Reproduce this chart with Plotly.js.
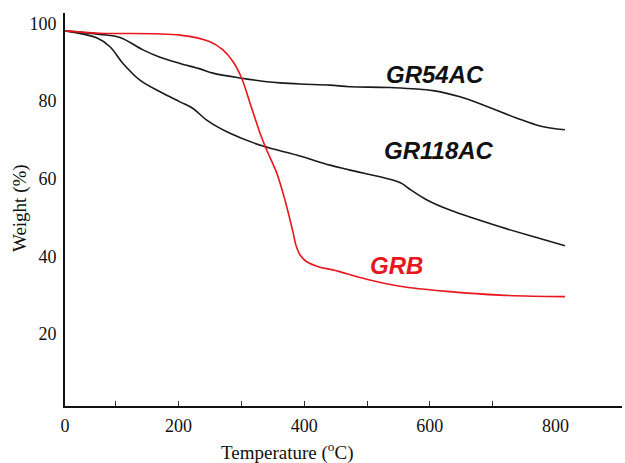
<!DOCTYPE html>
<html>
<head>
<meta charset="utf-8">
<script src="https://cdn.plot.ly/plotly-3.0.1.min.js"></script>
<style>
html,body{margin:0;padding:0;background:#fff;}
#chart{width:625px;height:463px;}
</style>
</head>
<body>
<div id="chart"></div>
<script>
// Temperature (°C) and weight (%)
const gr54acT = [19.3, 75, 106.8, 143.4, 170.5, 202.3, 234.1, 254.8, 300.5, 340.8, 361.5, 393.3, 441, 472.9, 536.5, 605, 648, 691, 738.6, 775.2, 815];
const gr54acW = [98.1, 97.2, 96.4, 93.2, 91.3, 89.7, 88.3, 87.2, 85.9, 85.0, 84.7, 84.4, 84.1, 83.7, 83.5, 82.7, 81.1, 78.6, 75.6, 73.6, 72.6];

const gr118acT = [19.3, 69.7, 90.9, 111.6, 138.6, 170.5, 202.3, 223, 244.8, 281.9, 334.4, 388, 441, 472.9, 552.4, 569.6, 595.4, 632, 711.6, 775.2, 815];
const gr118acW = [98.1, 96.3, 94.0, 89.7, 85.4, 82.4, 79.8, 78.1, 75.1, 71.7, 68.4, 66.1, 63.5, 62.2, 59.0, 57.1, 54.5, 51.9, 47.6, 44.6, 42.7];

const grbT = [19.3, 75, 202.3, 250, 270.7, 286.6, 300.5, 313.7, 329.6, 340.3, 356.2, 369.4, 382.6, 387, 394, 404, 425, 445.8, 499.4, 552.4, 632, 711.6, 815];
const grbW = [98.1, 97.5, 97.0, 95.3, 93.2, 90.2, 85.9, 79.5, 71.8, 67.4, 61.5, 54.5, 45.9, 42.8, 40.2, 38.6, 37.2, 36.5, 34.1, 32.3, 30.9, 30.0, 29.6];

const xTickVals = [19.3, 200, 400, 600, 800];
const xTickText = ['0', '200', '400', '600', '800'];
const xMinorVals = [100, 200, 300, 400, 500, 600, 700];
const yTickVals = [20, 40, 60, 80, 100];

const seriesNames = ['GR54AC', 'GR118AC', 'GRB'];

const black = '#1b1b1b';
const red = '#e8161e';

const lineStyle = (c) => ({color: c, width: 1.6, shape: 'spline', smoothing: 1});

const data = [
  {x: gr54acT, y: gr54acW, name: seriesNames[0], mode: 'lines', line: lineStyle(black)},
  {x: gr118acT, y: gr118acW, name: seriesNames[1], mode: 'lines', line: lineStyle(black)},
  {x: grbT, y: grbW, name: seriesNames[2], mode: 'lines', line: lineStyle(red)}
];

const serif = 'Liberation Serif, Times New Roman, serif';
const labelFont = {family: 'Liberation Sans, Arial, sans-serif', size: 24, weight: 700, style: 'italic'};

const layout = {
  width: 625, height: 463,
  margin: {l: 65, r: 3, t: 13, b: 57},
  paper_bgcolor: '#fff', plot_bgcolor: '#fff',
  showlegend: false,
  xaxis: {
    range: [19.3, 905.8],
    showgrid: false, zeroline: false,
    showline: true, linecolor: '#111', linewidth: 2,
    tickmode: 'array', tickvals: xTickVals, ticktext: xTickText,
    ticks: '',
    minor: {tickmode: 'array', tickvals: xMinorVals, ticks: 'inside', ticklen: 5, tickwidth: 1, tickcolor: '#333'},
    tickfont: {family: serif, size: 18, color: '#111'},
    ticklabelstandoff: 2
  },
  yaxis: {
    range: [1.42, 102.7],
    showgrid: false, zeroline: false,
    showline: true, linecolor: '#111', linewidth: 2,
    tickmode: 'array', tickvals: yTickVals,
    ticks: '',
    tickfont: {family: serif, size: 18, color: '#111'},
    ticklabelstandoff: 3
  },
  annotations: [
    {x: 434.5, y: 74, text: seriesNames[0], showarrow: false, font: Object.assign({}, labelFont, {color: '#111'})},
    {x: 438.8, y: 151, text: seriesNames[1], showarrow: false, font: Object.assign({}, labelFont, {color: '#111'})},
    {x: 396, y: 265, text: seriesNames[2], showarrow: false, font: Object.assign({}, labelFont, {color: red})},
    {x: 286.7, y: 451.7, text: 'Temperature (<sup>o</sup>C)', showarrow: false, font: {family: serif, size: 19, color: '#111'}},
    {x: 20, y: 208, text: 'Weight (%)', showarrow: false, textangle: -90, font: {family: serif, size: 19, color: '#111'}}
  ]
};

// convert pixel positions of annotations to paper coordinates
const pw = 625 - 65 - 3, ph = 463 - 13 - 57;
layout.annotations.forEach(a => {
  a.xref = 'paper'; a.yref = 'paper';
  a.x = (a.x - 65) / pw;
  a.y = 1 - (a.y - 13) / ph;
  a.xanchor = 'center'; a.yanchor = 'middle';
});

Plotly.newPlot('chart', data, layout, {displayModeBar: false, staticPlot: true});
</script>
</body>
</html>
